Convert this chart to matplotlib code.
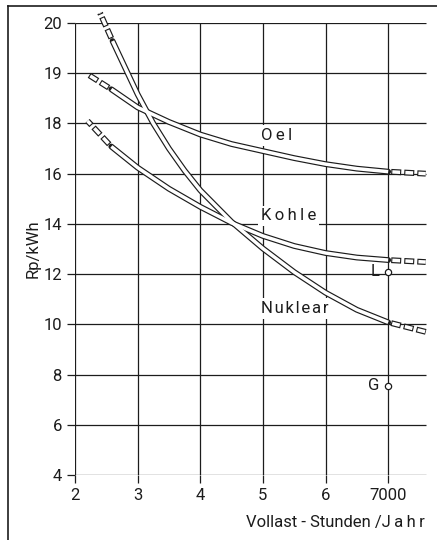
import numpy as np
import matplotlib
matplotlib.use('Agg')
import matplotlib.pyplot as plt
from matplotlib.lines import Line2D

plt.rcParams['font.family'] = ['Roboto', 'DejaVu Sans']
plt.rcParams['lines.scale_dashes'] = False

# --- Daten ---
oel_x = [2.58, 3.0, 3.5, 4.0, 4.5, 5.0, 5.5, 6.0, 6.5, 7.0]
oel_y = [18.68, 18.32, 18.03, 17.56, 17.18, 16.9, 16.62, 16.38, 16.2, 16.08]
oel_lead = ([2.58, 2.2], [18.68, 18.98])
oel_ext = ([7.0, 7.6], [16.08, 16.0])

kohle_x = [2.58, 3.0, 3.5, 4.0, 4.5, 5.0, 5.5, 6.0, 6.5, 7.0]
kohle_y = [17.08, 16.24, 15.4, 14.68, 14.04, 13.52, 13.12, 12.84, 12.66, 12.56]
kohle_lead = ([2.58, 2.2], [17.08, 18.05])
kohle_ext = ([7.0, 7.6], [12.56, 12.48])

nuk_x = [2.6, 3.0, 3.25, 3.5, 3.75, 4.0, 4.5, 5.0, 5.5, 6.0, 6.5, 7.0]
nuk_y = [19.64, 18.58, 18.0, 17.0, 16.12, 15.34, 14.08, 13.02, 12.08, 11.26, 10.58, 10.08]
nuk_lead = ([2.6, 2.4], [19.64, 20.2])
nuk_ext = ([7.0, 7.6], [10.08, 9.7])

punkte_x = [7.0, 7.0]
punkte_y = [12.1, 7.56]
punkte_lab = ['L', 'G']

yticks = [4, 6, 8, 10, 12, 14, 16, 18, 19, 20]
xticks = [2, 3, 4, 5, 6, 7]
xticklabels = ['2', '3', '4', '5', '6', '7000']

K = '#1c1c1c'
FS = 12
THIN = '\u2009'
HAIR = '\u200a'


def forward(y):
    """oberhalb 18 ist die Skala doppelt gestreckt"""
    y = np.asarray(y, dtype=float)
    return np.where(y > 18, 18 + 2 * (y - 18), y)


def inverse(t):
    t = np.asarray(t, dtype=float)
    return np.where(t > 18, 18 + (t - 18) / 2, t)


def tube(ax, x, y):
    ax.plot(x, y, color=K, lw=4.2, solid_capstyle='round', zorder=3, clip_on=False)
    ax.plot(x, y, color='white', lw=2.5, solid_capstyle='butt', zorder=3.1, clip_on=False)


def dashed_tube(ax, x, y):
    # beginnt am Ende der durchgezogenen Kurve mit einer Luecke
    on, off, rand = 7.2, 2.2, 0.8
    ax.plot(x, y, color=K, lw=4.2, dash_capstyle='butt', zorder=3, clip_on=False,
            linestyle=(on, (on, off)))
    w_on = on - 2 * rand
    w_off = on + off - w_on
    ax.plot(x, y, color='white', lw=2.5, dash_capstyle='butt', zorder=3.1, clip_on=False,
            linestyle=(on + off - (off + rand), (w_on, w_off)))


def gesperrt(s, sp=THIN):
    return sp.join(s)


fig = plt.figure(figsize=(4.37, 5.4), dpi=100)
ax = fig.add_axes([75 / 437, 65 / 540, 352 / 437, 452 / 540])
ax.set_yscale('function', functions=(forward, inverse))
ax.set_xlim(2, 7.62)
ax.set_ylim(4, 20)

for s in ax.spines.values():
    s.set_visible(False)

ax.hlines(yticks, 2, 7.6, color=K, lw=0.9, zorder=1)
ax.vlines(xticks, 4, 20, color=K, lw=0.9, zorder=1)

ax.set_yticks(yticks)
ax.set_yticklabels([str(v) for v in yticks])
ax.set_xticks(xticks)
ax.set_xticklabels(xticklabels)
ax.minorticks_off()
ax.tick_params(direction='out', length=6, width=0.9, color=K, pad=3.5,
               labelsize=FS, labelcolor=K)

for (cx, cy, lead, ext) in [(oel_x, oel_y, oel_lead, oel_ext),
                            (kohle_x, kohle_y, kohle_lead, kohle_ext),
                            (nuk_x, nuk_y, nuk_lead, nuk_ext)]:
    tube(ax, cx, cy)
    dashed_tube(ax, *lead)
    dashed_tube(ax, *ext)

box = dict(facecolor='white', edgecolor='none', pad=2)
ax.text(4.97, 17.52, gesperrt('Oel'), ha='left', va='center', fontsize=FS, color=K,
        bbox=box, zorder=2)
ax.text(4.97, 14.32, gesperrt('Kohle'), ha='left', va='center', fontsize=FS, color=K,
        bbox=box, zorder=2)
ax.text(4.97, 10.64, gesperrt('Nuklear', HAIR), ha='left', va='center', fontsize=FS,
        color=K, bbox=box, zorder=2)

ax.plot(punkte_x, punkte_y, 'o', ms=4.5, mfc='white', mec=K, mew=0.9, zorder=4, clip_on=False)
for px, py, lab in zip(punkte_x, punkte_y, punkte_lab):
    ax.annotate(lab, (px, py), xytext=(-6, 0), textcoords='offset points',
                ha='right', va='center', fontsize=FS, color=K, zorder=4)

ax.set_ylabel('Rp/kWh', fontsize=FS, color=K, labelpad=2)
fig.text(425 / 437, 1 - 522 / 540, 'Vollast - Stunden /' + gesperrt('Jahr'),
         ha='right', va='center', fontsize=FS, color=K)

# Rahmen links und oben
fig.add_artist(Line2D([7.5 / 437, 7.5 / 437], [0, 1 - 6 / 540], color=K, lw=1.2,
                      transform=fig.transFigure))
fig.add_artist(Line2D([7.5 / 437, 1], [1 - 6 / 540, 1 - 6 / 540], color=K, lw=1.2,
                      transform=fig.transFigure))

fig.savefig('out.png', dpi=100, facecolor='white')
